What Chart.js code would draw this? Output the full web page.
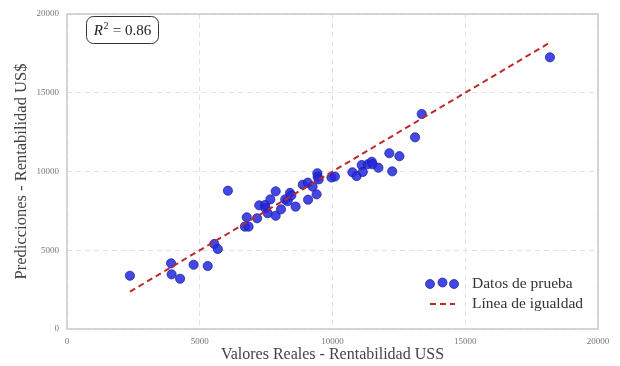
<!DOCTYPE html>
<html>
<head>
<meta charset="utf-8">
<script src="https://cdn.jsdelivr.net/npm/chart.js@4.4.0/dist/chart.umd.min.js"></script>
<style>
	html, body { margin: 0; padding: 0; background: #fff; }
</style>
</head>
<body>
<canvas id="dispersion" width="620" height="366"></canvas>
<script>
// valores reales del conjunto de prueba (eje x)
const realVals = [
	2370, 3920, 3940, 4260, 4770, 5300, 5550, 5680, 6060, 6770,
	6700, 6840, 7160, 7240, 7460, 7480, 7560, 7660, 7860, 7860,
	8060, 8220, 8310, 8400, 8450, 8610, 8880, 9080, 9070, 9250,
	9400, 9430, 9440, 9480, 9960, 10090, 10750, 10910, 11100, 11140,
	11330, 11480, 11510, 11730, 12140, 12250, 12520, 13110, 13360, 18190
];
// predicciones del modelo para cada valor real
const predVals = [
	3380, 4170, 3470, 3190, 4080, 4000, 5400, 5080, 8780, 7090,
	6500, 6500, 7030, 7850, 7870, 7660, 7350, 8230, 8740, 7190,
	7600, 8230, 8110, 8640, 8480, 7770, 9160, 8210, 9290, 9040,
	8550, 9890, 9670, 9500, 9620, 9680, 9950, 9710, 10410, 9970,
	10460, 10620, 10460, 10240, 11160, 10010, 10970, 12170, 13650, 17250
];
const tickVals = [0, 5000, 10000, 15000, 20000];
const r2Val = '0.86';

const serif = '"Liberation Serif", "Times New Roman", serif';
const colorPunto = 'rgba(35, 40, 222, 0.85)';
const bordePunto = 'rgba(25, 28, 160, 0.9)';
const colorLinea = '#c0282a';

//puntos {x, y} para el scatter
const puntos = realVals.map((v, i) => ({ x: v, y: predVals[i] }));

//línea y = x entre el mínimo y máximo real
const minReal = Math.min(...realVals);
const maxReal = Math.max(...realVals);
const lineaIgual = [{ x: minReal, y: minReal }, { x: maxReal, y: maxReal }];

//marco, caja R^2 y leyenda
const extrasPlugin = {
	id: 'extras',
	beforeDatasetsDraw(chart) {
		const { ctx, chartArea: a } = chart;
		ctx.save();
		ctx.strokeStyle = '#c9c9c9';
		ctx.lineWidth = 1.5;
		ctx.strokeRect(a.left, a.top, a.right - a.left, a.bottom - a.top);
		ctx.restore();
	},
	afterDraw(chart) {
		const ctx = chart.ctx;
		ctx.save();

		// caja con R^2
		ctx.beginPath();
		ctx.roundRect(86.5, 16.5, 72, 27, 7);
		ctx.fillStyle = '#fff';
		ctx.fill();
		ctx.strokeStyle = '#333';
		ctx.lineWidth = 1;
		ctx.stroke();

		ctx.fillStyle = '#222';
		ctx.textBaseline = 'alphabetic';
		const fR = 'italic 15px ' + serif;
		const fSup = '10px ' + serif;
		const fTxt = '15px ' + serif;
		const resto = ' = ' + r2Val;
		ctx.font = fR; const wR = ctx.measureText('R').width;
		ctx.font = fSup; const wS = ctx.measureText('2').width;
		ctx.font = fTxt; const wT = ctx.measureText(resto).width;
		let x = 122.5 - (wR + wS + 1 + wT) / 2;
		const base = 35;
		ctx.font = fR; ctx.fillText('R', x, base); x += wR;
		ctx.font = fSup; ctx.fillText('2', x + 0.5, base - 6); x += wS + 1;
		ctx.font = fTxt; ctx.fillText(resto, x, base);

		// leyenda
		ctx.fillStyle = colorPunto;
		ctx.strokeStyle = bordePunto;
		ctx.lineWidth = 0.8;
		[[430, 284], [442.5, 282.5], [454, 284]].forEach(p => {
			ctx.beginPath();
			ctx.arc(p[0], p[1], 4.5, 0, Math.PI * 2);
			ctx.fill();
			ctx.stroke();
		});
		ctx.beginPath();
		ctx.setLineDash([6, 4]);
		ctx.strokeStyle = colorLinea;
		ctx.lineWidth = 2;
		ctx.moveTo(430, 304);
		ctx.lineTo(455, 304);
		ctx.stroke();
		ctx.setLineDash([]);

		ctx.fillStyle = '#333';
		ctx.font = '15.5px ' + serif;
		ctx.textBaseline = 'middle';
		ctx.fillText('Datos de prueba', 472, 284);
		ctx.fillText('Línea de igualdad', 472, 304);
		ctx.restore();
	}
};

const ejeComun = {
	type: 'linear',
	min: 0,
	max: 20000,
	afterBuildTicks: (s) => { s.ticks = tickVals.map(v => ({ value: v })); },
	grid: { color: '#e2e2e2', lineWidth: 1, drawTicks: false },
	border: { display: false, dash: [5, 4] },
	ticks: {
		color: '#777',
		font: { family: serif, size: 9 },
		callback: (v) => String(v)
	}
};

new Chart(document.getElementById('dispersion'), {
	type: 'scatter',
	data: {
		datasets: [{
			type: 'line',
			label: 'Línea de igualdad',
			data: lineaIgual,
			borderColor: colorLinea,
			borderWidth: 2,
			borderDash: [6, 4],
			pointRadius: 0,
			fill: false,
			order: 0
		}, {
			label: 'Datos de prueba',
			data: puntos,
			backgroundColor: colorPunto,
			borderColor: bordePunto,
			borderWidth: 0.8,
			pointRadius: 4.6,
			pointHoverRadius: 4.6,
			order: 1
		}]
	},
	options: {
		responsive: false,
		animation: false,
		layout: { padding: { top: 14, right: 22, bottom: 0, left: 0 } },
		plugins: {
			legend: { display: false },
			tooltip: { enabled: false }
		},
		scales: {
			x: Object.assign({}, ejeComun, {
				position: 'bottom',
				afterFit: (s) => { s.height = 37; },
				ticks: Object.assign({}, ejeComun.ticks, { padding: 7, maxRotation: 0 }),
				title: {
					display: true,
					text: 'Valores Reales - Rentabilidad USS',
					color: '#444',
					font: { family: serif, size: 16 },
					padding: { top: 0, bottom: 1.5 }
				}
			}),
			y: Object.assign({}, ejeComun, {
				position: 'left',
				afterFit: (s) => { s.width = 67; },
				ticks: Object.assign({}, ejeComun.ticks, { padding: 8 }),
				title: {
					display: true,
					text: 'Predicciones - Rentabilidad US$',
					color: '#444',
					font: { family: serif, size: 16.5 },
					padding: { top: 12, bottom: 0 }
				}
			})
		}
	},
	plugins: [extrasPlugin]
});
</script>
</body>
</html>
